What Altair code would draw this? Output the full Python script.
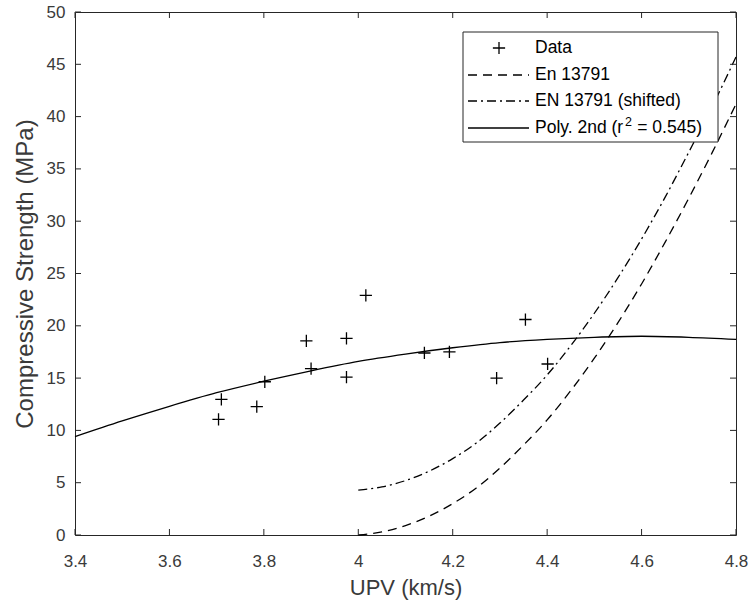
import altair as alt
import pandas as pd

# ---------------- data ----------------
data_upv = [3.704, 3.710, 3.785, 3.802, 3.890, 3.900, 3.975, 3.975, 4.016, 4.140, 4.193, 4.293, 4.354, 4.401]
data_fc = [11.06, 12.97, 12.27, 14.65, 18.55, 15.90, 18.80, 15.10, 22.90, 17.40, 17.50, 15.00, 20.60, 16.35]

poly_upv = [3.4, 3.5, 3.6, 3.7, 3.8, 3.9, 4.0, 4.1, 4.2, 4.3, 4.4, 4.5, 4.6, 4.7, 4.8]
poly_fc = [9.4, 10.9, 12.3, 13.6, 14.7, 15.7, 16.6, 17.3, 17.9, 18.4, 18.7, 18.9, 19.0, 18.9, 18.7]

en_upv = [4.00, 4.05, 4.10, 4.15, 4.20, 4.25, 4.30, 4.35, 4.40, 4.45, 4.50, 4.55, 4.60, 4.65, 4.70, 4.75, 4.80]
en_fc = [0.0, 0.3, 0.9, 1.8, 3.0, 4.5, 6.4, 8.6, 11.0, 13.8, 16.9, 20.3, 24.0, 28.0, 32.2, 36.6, 41.2]
ens_fc = [4.3, 4.6, 5.2, 6.1, 7.3, 8.8, 10.7, 12.9, 15.3, 18.1, 21.2, 24.6, 28.3, 32.3, 36.6, 41.0, 45.7]

x_ticks = [3.4, 3.6, 3.8, 4.0, 4.2, 4.4, 4.6, 4.8]
y_ticks = [0, 5, 10, 15, 20, 25, 30, 35, 40, 45, 50]

legend_labels = ["Data", "En 13791", "EN 13791 (shifted)", "Poly. 2nd (r"]
legend_sup = "2"
legend_tail = "= 0.545)"

# ---------------- styling ----------------
W, H = 661, 523
FONT = "Liberation Sans"
AX = "#262626"
TXT = "#3a3a3a"
PLUS = "M-1,0L1,0M0,-1L0,1"
DASH = [9, 6]
DASHDOT = [9, 4, 2, 4]
TL = 6  # inward tick length

xs = alt.Scale(domain=[3.4, 4.8], nice=False, zero=False)
ys = alt.Scale(domain=[0, 50], nice=False, zero=True)

ax_x_main = alt.Axis(orient="bottom", values=x_ticks, format=".1~f", ticks=False, domain=False,
                     grid=False, labelFontSize=17, labelFont=FONT, labelColor=TXT, labelPadding=18,
                     labelFlush=False, title="UPV (km/s)", titleFont=FONT, titleFontSize=22,
                     titleFontWeight="normal", titleColor=TXT, titlePadding=8)
ax_y_main = alt.Axis(orient="left", values=y_ticks, ticks=False, domain=False, grid=False,
                     labelFontSize=17, labelFont=FONT, labelColor=TXT, labelPadding=10,
                     labelFlush=False, title="Compressive Strength (MPa)", titleFont=FONT,
                     titleFontSize=24, titleFontWeight="normal", titleColor=TXT, titlePadding=9)

df_poly = pd.DataFrame({"upv": poly_upv, "fc": poly_fc})
df_en = pd.DataFrame({"upv": en_upv, "fc": en_fc})
df_ens = pd.DataFrame({"upv": en_upv, "fc": ens_fc})
df_data = pd.DataFrame({"upv": data_upv, "fc": data_fc})
df_xt = pd.DataFrame({"v": x_ticks})
df_yt = pd.DataFrame({"v": y_ticks})

poly = alt.Chart(df_poly).mark_line(color="black", strokeWidth=1.3, interpolate="monotone").encode(
    x=alt.X("upv:Q", scale=xs, axis=ax_x_main),
    y=alt.Y("fc:Q", scale=ys, axis=ax_y_main),
)
en = alt.Chart(df_en).mark_line(color="black", strokeWidth=1.3, strokeDash=DASH, interpolate="monotone").encode(
    x=alt.X("upv:Q", scale=xs),
    y=alt.Y("fc:Q", scale=ys),
)
ens = alt.Chart(df_ens).mark_line(color="black", strokeWidth=1.3, strokeDash=DASHDOT, interpolate="monotone").encode(
    x=alt.X("upv:Q", scale=xs),
    y=alt.Y("fc:Q", scale=ys),
)
pts = alt.Chart(df_data).mark_point(shape=PLUS, filled=False, color="black", strokeWidth=1.3, size=150, opacity=1).encode(
    x=alt.X("upv:Q", scale=xs),
    y=alt.Y("fc:Q", scale=ys),
)

# inward ticks on all four sides (MATLAB box style)
tick_layers = [
    alt.Chart(df_xt).mark_rule(color=AX, strokeWidth=1).encode(
        x=alt.X("v:Q", scale=xs), y=alt.value(H), y2=alt.value(H - TL)),
    alt.Chart(df_xt).mark_rule(color=AX, strokeWidth=1).encode(
        x=alt.X("v:Q", scale=xs), y=alt.value(0), y2=alt.value(TL)),
    alt.Chart(df_yt).mark_rule(color=AX, strokeWidth=1).encode(
        y=alt.Y("v:Q", scale=ys), x=alt.value(0), x2=alt.value(TL)),
    alt.Chart(df_yt).mark_rule(color=AX, strokeWidth=1).encode(
        y=alt.Y("v:Q", scale=ys), x=alt.value(W), x2=alt.value(W - TL)),
]

# ---------------- legend (manual, matches MATLAB box legend) ----------------
LX0, LX1, LY0, LY1 = 388, 643, 20, 130
row_y = [36, 63, 89, 116]
LFS = 17.5
TX = 460
one = pd.DataFrame({"k": [0]})
legend_layers = [
    alt.Chart(one).mark_rect(fill="white", stroke=AX, strokeWidth=1).encode(
        x=alt.value(LX0), x2=alt.value(LX1), y=alt.value(LY0), y2=alt.value(LY1))
]
legend_layers.append(
    alt.Chart(one).mark_point(shape=PLUS, filled=False, color="black", strokeWidth=1.3, size=150, opacity=1).encode(
        x=alt.value(424), y=alt.value(row_y[0])))
for i, dash in [(1, DASH), (2, DASHDOT), (3, None)]:
    kw = dict(color="black", strokeWidth=1.3)
    if dash is not None:
        kw["strokeDash"] = dash
    legend_layers.append(
        alt.Chart(one).mark_rule(**kw).encode(x=alt.value(393), x2=alt.value(454), y=alt.value(row_y[i])))
for i, lab in enumerate(legend_labels):
    legend_layers.append(
        alt.Chart(pd.DataFrame({"t": [lab]})).mark_text(
            align="left", baseline="middle", font=FONT, fontSize=LFS, color="black").encode(
            text="t:N", x=alt.value(TX), y=alt.value(row_y[i])))
# superscript "2" and the tail of the last label (Liberation Sans = Arial metrics)
w_head = 5.113 * LFS
SFS = 12.5
legend_layers.append(
    alt.Chart(pd.DataFrame({"t": [legend_sup]})).mark_text(
        align="left", baseline="middle", font=FONT, fontSize=SFS, color="black").encode(
        text="t:N", x=alt.value(TX + w_head + 0.5), y=alt.value(row_y[3] - 6)))
legend_layers.append(
    alt.Chart(pd.DataFrame({"t": [legend_tail]})).mark_text(
        align="left", baseline="middle", font=FONT, fontSize=LFS, color="black").encode(
        text="t:N", x=alt.value(TX + w_head + 0.556 * SFS + 1 + 0.278 * LFS), y=alt.value(row_y[3])))

chart = alt.layer(poly, en, ens, pts, *tick_layers, *legend_layers).properties(
    width=W, height=H,
    autosize=alt.AutoSizeParams(type="none"),
    padding={"left": 75, "top": 12, "right": 19, "bottom": 70},
    background="white",
).configure_view(stroke=AX, strokeWidth=1)

chart.save("out.html", embed_options={"renderer": "svg", "actions": False})
